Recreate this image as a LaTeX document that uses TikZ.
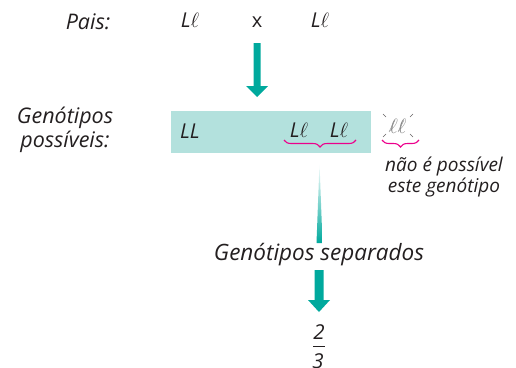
\documentclass[tikz,border=0pt]{standalone}
\usepackage{fontspec}
\setsansfont{Open Sans}
\usetikzlibrary{decorations.pathreplacing}
\definecolor{arrowteal}{HTML}{00A99D}
\definecolor{boxteal}{HTML}{B3E1DD}
\definecolor{brmag}{HTML}{EC008C}
\definecolor{txt}{HTML}{231F20}
\tikzset{
  lbl/.style={font=\sffamily\itshape\fontsize{21.5}{24}\selectfont, text=txt, inner sep=0pt},
  small/.style={font=\sffamily\itshape\fontsize{19}{21}\selectfont, text=txt, inner sep=0pt},
  gen/.style={font=\sffamily\itshape\fontsize{20.5}{22}\selectfont, text=txt, inner sep=0pt},
  magbrace/.style={draw=brmag, line width=1.1pt, decorate, decoration={brace, amplitude=7pt, mirror}},
  tick/.style={draw=txt!70, line width=0.5pt}
}
\begin{document}
\begin{tikzpicture}[x=1pt,y=-1pt]
\useasboundingbox (0,0) rectangle (516,367);
% parents
\node[lbl] (pais) at (88,22) {Pais:};
\node[gen] (p1) at (190,20) {L$\ell$};
\node[lbl, font=\sffamily\fontsize{20}{22}\selectfont] (cross) at (257,22) {x};
\node[gen] (p2) at (320,20) {L$\ell$};
% arrow 1
\coordinate (a1s) at (257,43);
\coordinate (a1t) at (257,97);
\fill[arrowteal] (253.5,43) -- (260.5,43) -- (260.5,86) -- (268,86) -- (a1t) -- (246,86) -- (253.5,86) -- cycle;
% box
\node[fill=boxteal, minimum width=200pt, minimum height=42pt, inner sep=0pt] (box) at (271,132) {};
\node[lbl, align=center] (gp) at (65,130) {Genótipos\\possíveis:};
\node[gen] (g1) at (190,131) {LL};
\node[gen] (g2) at (299,130) {L$\ell$};
\node[gen] (g3) at (339,130) {L$\ell$};
\draw[magbrace] (284,140) -- (356,140);
\coordinate (bt) at (320,155);
% crossed ll
\node[gen, text=gray] (g4) at (398,126) {$\ell\ell$};
\draw[tick] (383,114) -- (386,117);
\draw[tick] (410,117) -- (413,114);
\draw[tick] (386,134) -- (383,137);
\draw[tick] (410,134) -- (413,137);
\draw[gray!80, line width=0.5pt] (389,132) -- (395,120) (398,132) -- (404,120);
\draw[magbrace] (382,140) -- (419,140);
\node[small, align=center] (np) at (444,177) {não é possível\\este genótipo};
% wedge
\shade[top color=white, bottom color=arrowteal] (319.5,163) -- (322.5,243) -- (316.5,243) -- cycle;
\node[font=\sffamily\itshape\fontsize{22.5}{24}\selectfont, text=txt, inner sep=0pt] (sep) at (319,255) {Genótipos separados};
% arrow 3
\fill[arrowteal] (314.5,270) -- (323.5,270) -- (323.5,300) -- (330,300) -- (319,312) -- (308,300) -- (314.5,300) -- cycle;
\coordinate (a3t) at (319,312);
% fraction
\node[gen] (num) at (319,332) {2};
\draw[txt, line width=0.8pt] (313,346) -- (325,346);
\node[gen] (den) at (318,361) {3};
\end{tikzpicture}
\end{document}
